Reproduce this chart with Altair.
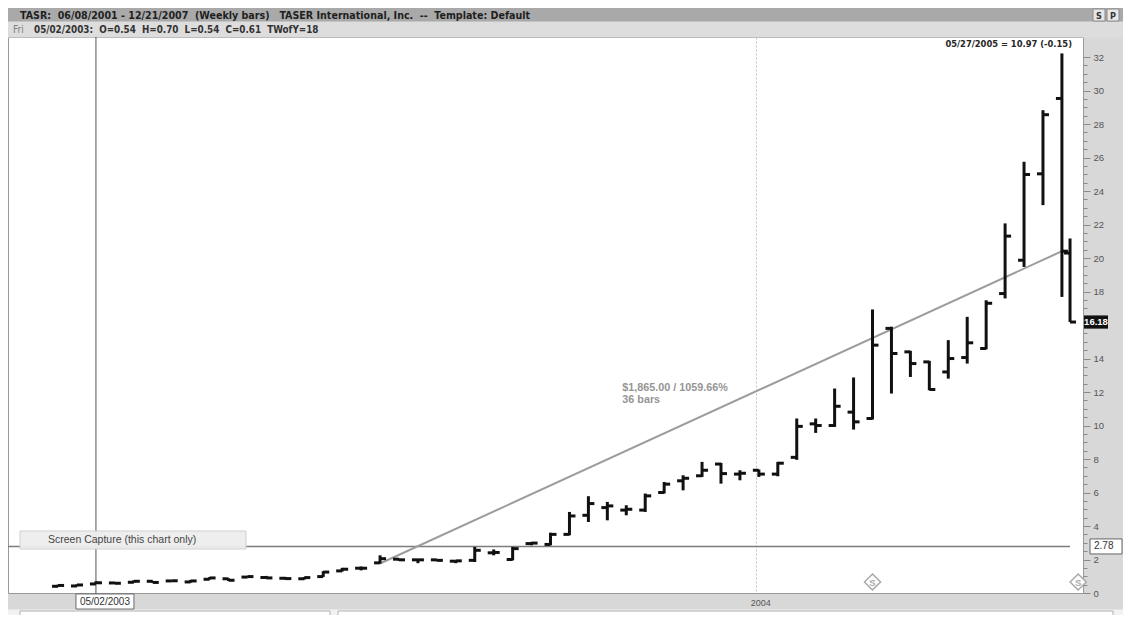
import altair as alt
import pandas as pd

# ---------------- data ----------------
dates = [
    "2003-04-18", "2003-04-25", "2003-05-02", "2003-05-09", "2003-05-16", "2003-05-23",
    "2003-05-30", "2003-06-06", "2003-06-13", "2003-06-20", "2003-06-27", "2003-07-04",
    "2003-07-11", "2003-07-18", "2003-07-25", "2003-08-01", "2003-08-08", "2003-08-15",
    "2003-08-22", "2003-08-29", "2003-09-05", "2003-09-12", "2003-09-19", "2003-09-26",
    "2003-10-03", "2003-10-10", "2003-10-17", "2003-10-24", "2003-10-31", "2003-11-07",
    "2003-11-14", "2003-11-21", "2003-11-28", "2003-12-05", "2003-12-12", "2003-12-19",
    "2003-12-26", "2004-01-02", "2004-01-09", "2004-01-16", "2004-01-23", "2004-01-30",
    "2004-02-06", "2004-02-13", "2004-02-20", "2004-02-27", "2004-03-05", "2004-03-12",
    "2004-03-19", "2004-03-26", "2004-04-02", "2004-04-09", "2004-04-16", "2004-04-23",
    "2004-04-26",
]
opens = [0.40, 0.42, 0.54, 0.60, 0.64, 0.70, 0.72, 0.66, 0.82, 0.85, 0.95, 0.92, 0.88, 0.85,
         0.98, 1.32, 1.48, 1.80, 2.02, 1.98, 1.98, 1.90, 1.95, 2.40, 2.00, 2.95, 2.90, 3.50,
         4.64, 5.10, 4.95, 4.95, 6.00, 6.70, 7.00, 7.70, 7.10, 7.33, 7.10, 8.10, 10.10, 10.00,
         10.80, 10.42, 15.80, 14.40, 13.80, 13.20, 14.06, 14.60, 17.88, 19.87, 25.03, 29.53,
         20.30]
highs = [0.50, 0.52, 0.70, 0.66, 0.76, 0.72, 0.75, 0.78, 0.95, 0.88, 1.02, 1.02, 0.96, 0.95,
         1.30, 1.50, 1.58, 2.25, 2.05, 2.02, 2.00, 1.95, 2.75, 2.60, 2.75, 3.05, 3.60, 4.84,
         5.78, 5.44, 5.24, 5.94, 6.63, 7.03, 7.83, 7.77, 7.33, 7.37, 7.83, 10.42, 10.42, 12.21,
         12.87, 16.93, 15.90, 14.46, 13.86, 15.10, 16.49, 17.48, 22.07, 25.75, 28.83, 32.22,
         21.17]
lows = [0.36, 0.40, 0.54, 0.55, 0.62, 0.60, 0.68, 0.62, 0.80, 0.72, 0.92, 0.85, 0.80, 0.80,
        0.96, 1.28, 1.35, 1.76, 1.92, 1.78, 1.90, 1.78, 1.85, 2.25, 1.95, 2.85, 2.85, 3.45,
        4.24, 4.34, 4.64, 4.84, 5.94, 6.13, 6.93, 6.53, 6.73, 6.93, 6.97, 7.95, 9.56, 9.92,
        9.76, 10.36, 11.91, 12.90, 12.11, 12.80, 13.70, 14.55, 17.59, 19.47, 23.16, 17.68,
        16.18]
closes = [0.45, 0.48, 0.61, 0.58, 0.70, 0.63, 0.73, 0.72, 0.90, 0.76, 0.98, 0.90, 0.86, 0.92,
          1.25, 1.42, 1.48, 2.05, 1.98, 1.98, 1.95, 1.92, 2.55, 2.42, 2.65, 2.98, 3.50, 4.60,
          5.34, 5.20, 5.00, 5.80, 6.50, 6.85, 7.33, 7.13, 7.15, 7.10, 7.75, 9.95, 10.00, 11.15,
          10.22, 14.80, 14.30, 13.70, 12.15, 14.00, 14.94, 17.30, 21.31, 24.99, 28.56, 20.41,
          16.18]

price_ticks = [0, 0.5, 1, 1.5, 2, 2.5, 3, 3.5, 4, 4.5, 5, 5.5, 6, 6.5, 7, 7.5, 8, 8.5, 9, 9.5,
               10, 10.5, 11, 11.5, 12, 12.5, 13, 13.5, 14, 14.5, 15, 15.5, 16, 16.5, 17, 17.5,
               18, 18.5, 19, 19.5, 20, 20.5, 21, 21.5, 22, 22.5, 23, 23.5, 24, 24.5, 25, 25.5,
               26, 26.5, 27, 27.5, 28, 28.5, 29, 29.5, 30, 30.5, 31, 31.5, 32]

trend_dates = ["2003-08-15", "2004-04-23"]
trend_values = [1.76, 20.41]
trend_labels = ["$1,865.00 / 1059.66%", "36 bars"]
trend_label_date = "2003-11-14"
trend_label_values = [12.23, 11.51]

cursor_date = "2003-05-02"
cursor_price = 2.78
last_price = 16.18
split_dates = ["2004-02-13", "2004-04-29"]

title_line = "TASR:\u00a0 06/08/2001 - 12/21/2007\u00a0 (Weekly bars)\u00a0\u00a0 TASER International, Inc.\u00a0 --\u00a0 Template: Default"
info_line = "05/02/2003:\u00a0 O=0.54\u00a0 H=0.70\u00a0 L=0.54\u00a0 C=0.61\u00a0 TWofY=18"
corner_line = "05/27/2005 = 10.97 (-0.15)"

# ---------------- layout / style ----------------
W, H = 1075, 556
NARROW = "Liberation Sans Narrow, Arial Narrow, DejaVu Sans Condensed, Liberation Sans, sans-serif"
SANS = "Liberation Sans, Arial, sans-serif"
T = "T00:00:00"

df = pd.DataFrame({
    "date": [d + T for d in dates],
    "open": opens, "high": highs, "low": lows, "close": closes,
})

xscale = alt.Scale(domain=[alt.DateTime(year=2003, month=3, date=30, hours=12),
                           alt.DateTime(year=2004, month=4, date=30, hours=19)])
yscale = alt.Scale(domain=[0, 33.2], nice=False, zero=False)

xaxis = alt.Axis(values=[alt.DateTime(year=2004, month=1, date=1)], format="%Y", title=None,
                 ticks=False, domain=False, grid=True, gridDash=[2, 2], gridColor="#c2c2c2",
                 gridWidth=1, labelAlign="left", labelBaseline="top", labelPadding=5,
                 labelOffset=-6, labelFontSize=9, labelColor="#555555", labelFont=SANS)
yaxis = alt.Axis(orient="right", values=price_ticks, title=None, grid=False, domain=False,
                 labelExpr="(datum.value % 2 === 0 && datum.value !== 16) ? format(datum.value, 'd') : ''",
                 tickSize={"condition": {"test": "datum.value % 2 === 0", "value": 7}, "value": 4},
                 tickColor="#8a8a8a", tickWidth=1, labelFontSize=9.5, labelColor="#555555",
                 labelPadding=3, labelOverlap=False, labelFont=SANS, labelFlush=False)

X = alt.X("date:T", scale=xscale, axis=xaxis)

# window chrome (pixel layout, not data)
rects = pd.DataFrame([
    {"x": 0, "x2": 1115, "y": -29, "y2": -15, "fill": "#a9a9a9", "stroke": "#a9a9a9"},
    {"x": 0, "x2": 1115, "y": -15, "y2": 0, "fill": "#dddddd", "stroke": "#dddddd"},
    {"x": 1085, "x2": 1097, "y": -28, "y2": -16, "fill": "#e6e6e6", "stroke": "#8c8c8c"},
    {"x": 1099, "x2": 1111, "y": -28, "y2": -16, "fill": "#e6e6e6", "stroke": "#8c8c8c"},
    {"x": 0, "x2": 1115, "y": 573, "y2": 590, "fill": "#f2f2f2", "stroke": "#f2f2f2"},
    {"x": 12, "x2": 322, "y": 574, "y2": 590, "fill": "#ffffff", "stroke": "#b0b0b0"},
    {"x": 330, "x2": 1105, "y": 574, "y2": 590, "fill": "#ffffff", "stroke": "#b0b0b0"},
])
chrome = alt.Chart(rects).mark_rect(strokeWidth=1).encode(
    x=alt.X("x:Q", scale=None), x2="x2:Q",
    y=alt.Y("y:Q", scale=None), y2="y2:Q",
    fill=alt.Fill("fill:N", scale=None), stroke=alt.Stroke("stroke:N", scale=None),
)

head_texts = pd.DataFrame([
    {"t": title_line, "x": 12, "y": -21.5, "c": "#1f1f1f", "s": 10.6},
    {"t": info_line, "x": 26, "y": -7, "c": "#333333", "s": 9.8},
    {"t": "S", "x": 1088, "y": -21.5, "c": "#333333", "s": 9},
    {"t": "P", "x": 1102, "y": -21.5, "c": "#333333", "s": 9},
])
head = alt.Chart(head_texts).mark_text(font=NARROW, fontWeight="bold", baseline="middle",
                                       align="left").encode(
    x=alt.X("x:Q", scale=None), y=alt.Y("y:Q", scale=None), text="t:N",
    color=alt.Color("c:N", scale=None), size=alt.Size("s:Q", scale=None),
)
fri = alt.Chart(pd.DataFrame({"t": ["Fri"]})).mark_text(
    font=NARROW, fontSize=10, color="#808080", align="left", baseline="middle"
).encode(x=alt.value(5), y=alt.value(-7), text="t:N")

corner = alt.Chart(pd.DataFrame({"t": [corner_line]})).mark_text(
    font=NARROW, fontSize=9.3, fontWeight="bold", color="#262626", align="right", baseline="middle"
).encode(x=alt.value(1064), y=alt.value(7), text="t:N")

# cursor cross-hair
vline = alt.Chart(pd.DataFrame({"date": [cursor_date + T]})).mark_rule(
    color="#555555", strokeWidth=1).encode(x=X, y=alt.value(0), y2=alt.value(557))
hline = alt.Chart(pd.DataFrame({"p": [cursor_price]})).mark_rule(
    color="#7c7c7c", strokeWidth=1.5).encode(
    y=alt.Y("p:Q", scale=yscale, axis=yaxis), x=alt.value(0), x2=alt.value(1062))

# trend line
trend = alt.Chart(pd.DataFrame({"date": [d + T for d in trend_dates], "v": trend_values})).mark_line(
    color="#9c9c9c", strokeWidth=2).encode(x=X, y=alt.Y("v:Q", scale=yscale, axis=yaxis))
trend_txt = alt.Chart(pd.DataFrame({"date": [trend_label_date + T] * 2, "v": trend_label_values,
                                    "t": trend_labels})).mark_text(
    font=SANS, fontSize=10.8, fontWeight="bold", color="#959595", align="left", baseline="middle",
    dx=-4).encode(x=X, y=alt.Y("v:Q", scale=yscale, axis=yaxis), text="t:N")

# OHLC bars
base = alt.Chart(df).encode(x=X)
hl = base.mark_rule(color="#111111", strokeWidth=3).encode(
    y=alt.Y("low:Q", scale=yscale, axis=yaxis), y2="high:Q")
op = base.mark_tick(orient="horizontal", size=6, thickness=3, xOffset=-3, color="#111111",
                    opacity=1).encode(y=alt.Y("open:Q", scale=yscale, axis=yaxis))
cl = base.mark_tick(orient="horizontal", size=6, thickness=3, xOffset=3, color="#111111",
                    opacity=1).encode(y=alt.Y("close:Q", scale=yscale, axis=yaxis))

# split markers
splits = alt.Chart(pd.DataFrame({"date": [d + T for d in split_dates], "t": ["S", "S"]}))
split_pts = splits.mark_point(shape="diamond", size=260, filled=True, fill="#ffffff",
                              stroke="#a8a8a8", strokeWidth=1.5, opacity=1).encode(
    x=X, y=alt.value(545))
split_txt = splits.mark_text(font=SANS, fontSize=9.5, fontWeight="bold", color="#a8a8a8").encode(
    x=X, y=alt.value(545.5), text="t:N")

# popup
popup_box = alt.Chart(pd.DataFrame({"a": [1]})).mark_rect(
    fill="#eeeeee", stroke="#cdcdcd", strokeWidth=1, opacity=0.95).encode(
    x=alt.value(12), x2=alt.value(238), y=alt.value(494), y2=alt.value(512))
popup_txt = alt.Chart(pd.DataFrame({"t": ["Screen Capture (this chart only)"]})).mark_text(
    font=SANS, fontSize=10.5, color="#444444", align="left", baseline="middle").encode(
    x=alt.value(40), y=alt.value(503), text="t:N")

# price labels on the axis (custom symbol paths span sqrt(size) px across x)
last_df = pd.DataFrame({"p": [last_price], "t": [f"{last_price:.2f}"]})
last_box = alt.Chart(last_df).mark_point(shape="M-1,-0.55L1,-0.55L1,0.55L-1,0.55Z", size=576,
                                          filled=True, fill="#111111", opacity=1,
                                          strokeWidth=0).encode(
    x=alt.value(1088), y=alt.Y("p:Q", scale=yscale, axis=yaxis))
last_txt = alt.Chart(last_df).mark_text(font=SANS, fontSize=9.5, fontWeight="bold",
                                        color="#ffffff", baseline="middle").encode(
    x=alt.value(1088), y=alt.Y("p:Q", scale=yscale, axis=yaxis), text="t:N")

cur_df = pd.DataFrame({"p": [cursor_price], "t": [f"{cursor_price:.2f}"]})
cur_box = alt.Chart(cur_df).mark_point(shape="M-1,-0.47L1,-0.47L1,0.47L-1,0.47Z", size=1024,
                                        filled=True, fill="#ffffff", stroke="#666666",
                                        strokeWidth=1, opacity=1).encode(
    x=alt.value(1098), y=alt.Y("p:Q", scale=yscale, axis=yaxis))
cur_txt = alt.Chart(cur_df).mark_text(font=SANS, fontSize=10, color="#333333", align="left",
                                      baseline="middle").encode(
    x=alt.value(1086), y=alt.Y("p:Q", scale=yscale, axis=yaxis), text="t:N")

date_df = pd.DataFrame({"date": [cursor_date + T], "t": ["05/02/2003"]})
date_box = alt.Chart(date_df).mark_point(shape="M-1,-0.26L1,-0.26L1,0.26L-1,0.26Z", size=3364,
                                          filled=True, fill="#ffffff", stroke="#6a6a6a",
                                          strokeWidth=1, opacity=1, xOffset=9).encode(
    x=X, y=alt.value(564.5))
date_txt = alt.Chart(date_df).mark_text(font=SANS, fontSize=10, color="#333333",
                                        baseline="middle", xOffset=9).encode(
    x=X, y=alt.value(565), text="t:N")

chart = alt.layer(
    chrome, head, fri, vline, hline, trend, hl, op, cl, trend_txt, corner,
    split_pts, split_txt, popup_box, popup_txt,
    last_box, last_txt, cur_box, cur_txt, date_box, date_txt,
).properties(
    width=W, height=H,
    padding={"left": 0, "top": 29, "right": 40, "bottom": 22},
    autosize=alt.AutoSizeParams(type="none"),
    background="#d8d8d8",
).configure_view(fill="#ffffff", stroke="#9a9a9a", strokeWidth=1)

chart.save("out.html", embed_options={"renderer": "svg", "actions": False})
